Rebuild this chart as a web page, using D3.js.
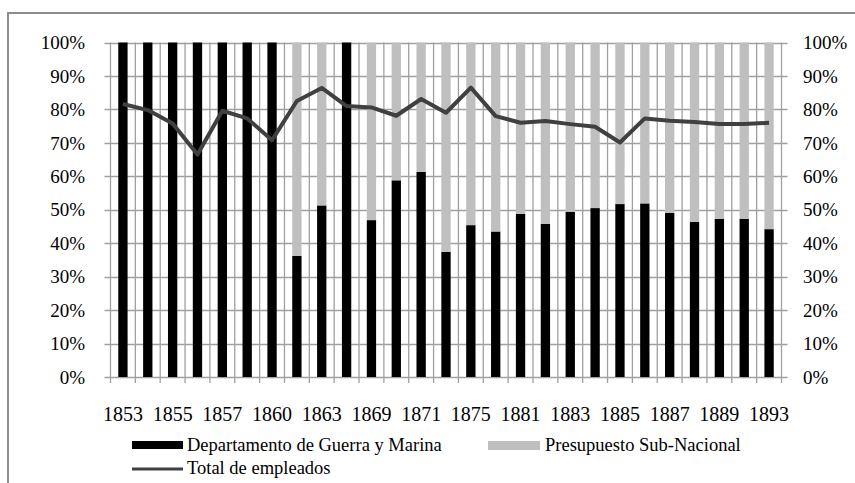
<!DOCTYPE html>
<html>
<head>
<meta charset="utf-8">
<script src="https://cdn.jsdelivr.net/npm/d3@7"></script>
<style>
  body { margin: 0; background: #fff; }
</style>
</head>
<body>
<div id="chart"></div>
<script>
'use strict';

// years (only every other one is labelled on the axis)
var years = ['1853','1854','1855','1856','1857','1858','1860','1861','1863','1864',
  '1869','1870','1871','1872','1875','1880','1881','1882','1883','1884',
  '1885','1886','1887','1888','1889','1890','1893'];
// share of Departamento de Guerra y Marina (%)
var guerra = [100,100,100,100,100,100,100,36.2,51.3,100,
  46.9,58.8,61.3,37.4,45.4,43.5,48.8,45.8,49.4,50.5,
  51.7,51.9,49.1,46.4,47.3,47.3,44.2];
// share of Presupuesto Sub-Nacional (%)
var subnacional = guerra.map(function(v) { return 100 - v; });
// total de empleados (%)
var total = [81.6,79.8,75.8,66.5,79.6,77.3,70.8,82.5,86.4,81.0,
  80.6,78.1,83.1,79.0,86.5,78.0,76.0,76.5,75.6,74.8,
  70.1,77.3,76.6,76.2,75.6,75.6,76.0];
var yTicks = [0,10,20,30,40,50,60,70,80,90,100];

var FONT = '"Liberation Serif", "Times New Roman", serif';
var width = 855, height = 483;
var m = { left: 110.5, right: 781.5, top: 42.5, bottom: 377 };

var svg = d3.select('#chart')
  .append('svg')
  .attr('width', width)
  .attr('height', height)
  .style('font-family', FONT);

// outer frame
svg.append('rect')
  .attr('x', 8).attr('y', 13)
  .attr('width', 860).attr('height', 480)
  .attr('fill', 'none')
  .attr('stroke', '#8c8c8c')
  .attr('stroke-width', 2);

var x = d3.scaleBand()
  .domain(years)
  .range([m.left, m.right]);

var y = d3.scaleLinear()
  .domain([0, 100])
  .range([m.bottom, m.top]);

var grid = '#a0a0a0';
var bw = x.bandwidth() * 0.375;

// horizontal grid lines (extend past axes like tick marks)
svg.append('g').selectAll('line')
  .data(yTicks)
  .enter().append('line')
  .attr('x1', m.left - 6).attr('x2', m.right + 6)
  .attr('y1', function(d) { return Math.round(y(d)) + 0.5; })
  .attr('y2', function(d) { return Math.round(y(d)) + 0.5; })
  .attr('stroke', grid).attr('stroke-width', 1.3);

// vertical grid lines at category boundaries
var bounds = years.map(function(d) { return x(d); }).concat([m.right]);
svg.append('g').selectAll('line')
  .data(bounds)
  .enter().append('line')
  .attr('x1', function(d) { return d; })
  .attr('x2', function(d) { return d; })
  .attr('y1', m.top)
  .attr('y2', m.bottom + 6)
  .attr('stroke', grid).attr('stroke-width', 1.3);

// stacked bars
var stackData = years.map(function(d, i) {
  return { year: d, guerra: guerra[i], subnacional: subnacional[i] };
});
var series = d3.stack().keys(['guerra', 'subnacional'])(stackData);
var colors = { guerra: '#000000', subnacional: '#bfbfbf' };

svg.append('g').selectAll('g')
  .data(series)
  .enter().append('g')
  .attr('fill', function(d) { return colors[d.key]; })
  .selectAll('rect')
  .data(function(d) { return d; })
  .enter().append('rect')
  .attr('x', function(d) { return x(d.data.year) + (x.bandwidth() - bw) / 2; })
  .attr('width', bw)
  .attr('y', function(d) { return y(d[1]); })
  .attr('height', function(d) { return y(d[0]) - y(d[1]); });

// line
var line = d3.line()
  .x(function(d, i) { return x(years[i]) + x.bandwidth() / 2; })
  .y(function(d) { return y(d); });

svg.append('path')
  .datum(total)
  .attr('d', line)
  .attr('fill', 'none')
  .attr('stroke', '#404040')
  .attr('stroke-width', 4)
  .attr('stroke-linejoin', 'round');

// left axis labels
svg.append('g').selectAll('text')
  .data(yTicks)
  .enter().append('text')
  .attr('x', 85)
  .attr('y', function(d) { return y(d); })
  .attr('dy', '0.35em')
  .attr('text-anchor', 'end')
  .style('font-family', FONT)
  .style('font-size', '19px')
  .text(function(d) { return d + '%'; });

// right axis labels
svg.append('g').selectAll('text')
  .data(yTicks)
  .enter().append('text')
  .attr('x', 803)
  .attr('y', function(d) { return y(d); })
  .attr('dy', '0.35em')
  .attr('text-anchor', 'start')
  .style('font-family', FONT)
  .style('font-size', '19px')
  .text(function(d) { return d + '%'; });

// x labels, every other category
var xAxis = d3.axisBottom(x)
  .tickSize(0)
  .tickPadding(30)
  .tickFormat(function(d, i) { return i % 2 === 0 ? d : ''; });
var gx = svg.append('g')
  .attr('transform', 'translate(0,' + m.bottom + ')')
  .call(xAxis)
  .attr('font-family', null)
  .attr('font-size', null);
gx.select('.domain').remove();
gx.selectAll('text')
  .style('font-family', FONT)
  .style('font-size', '20px')
  .attr('fill', '#000');

// legend
var lg = svg.append('g');
function legendText(xx, yy, t) {
  lg.append('text').attr('x', xx).attr('y', yy).attr('dy', '0.35em')
    .style('font-family', FONT).style('font-size', '18.5px').text(t);
}
lg.append('rect').attr('x', 132).attr('y', 441).attr('width', 51).attr('height', 8).attr('fill', '#000');
legendText(187, 445, 'Departamento de Guerra y Marina');
lg.append('rect').attr('x', 488).attr('y', 441).attr('width', 52).attr('height', 9).attr('fill', '#bfbfbf');
legendText(545, 445, 'Presupuesto Sub-Nacional');
lg.append('line').attr('x1', 132).attr('x2', 183).attr('y1', 469).attr('y2', 469)
  .attr('stroke', '#404040').attr('stroke-width', 3);
legendText(187, 468, 'Total de empleados');
</script>
</body>
</html>
